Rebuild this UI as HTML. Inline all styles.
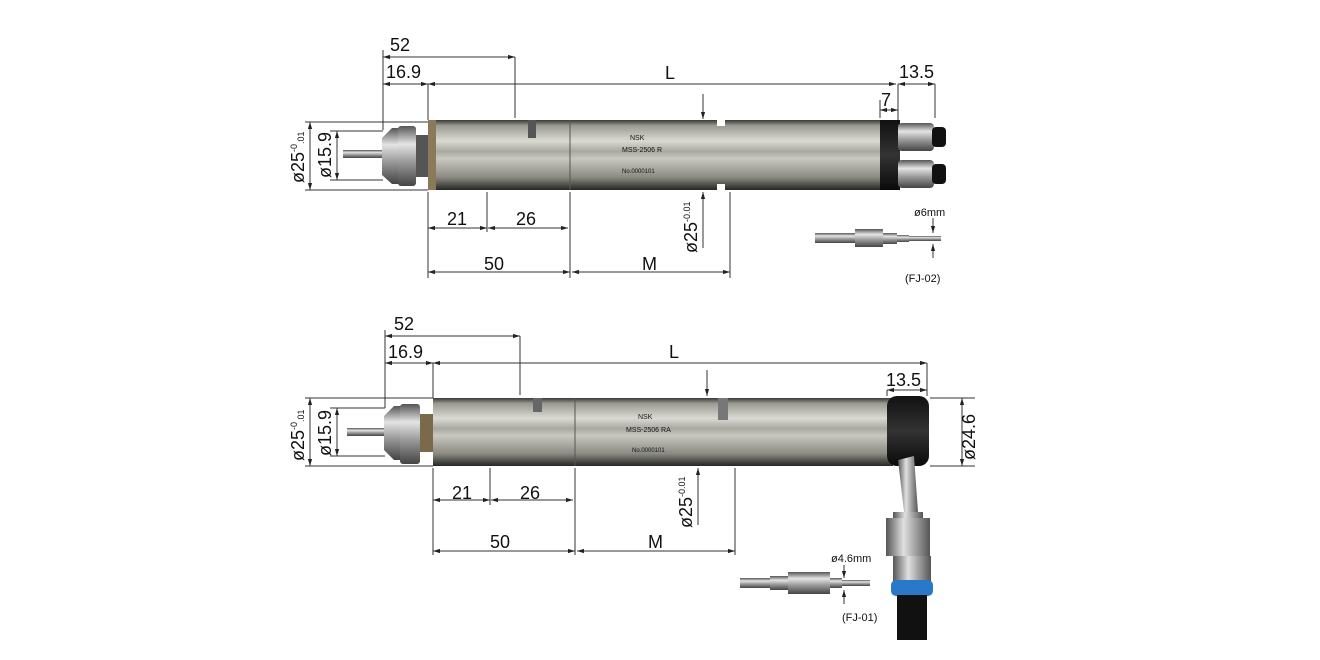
<!DOCTYPE html>
<html><head><meta charset="utf-8"><style>
html,body{margin:0;padding:0;background:#fff;}
svg{display:block;}
text{font-family:"Liberation Sans",Arial,sans-serif;fill:#111;}
</style></head><body>
<svg width="1320" height="660" viewBox="0 0 1320 660" xmlns="http://www.w3.org/2000/svg">
<defs>
<linearGradient id="metal" x1="0" y1="0" x2="0" y2="1">
<stop offset="0" stop-color="#3a3a36"/><stop offset="0.08" stop-color="#9a9a92"/>
<stop offset="0.3" stop-color="#dadad4"/><stop offset="0.45" stop-color="#a8a8a0"/>
<stop offset="0.55" stop-color="#c8c8c0"/><stop offset="0.82" stop-color="#8a8a82"/>
<stop offset="1" stop-color="#262622"/></linearGradient>
<linearGradient id="col" x1="0" y1="0" x2="0" y2="1">
<stop offset="0" stop-color="#555"/><stop offset="0.3" stop-color="#e4e4e4"/>
<stop offset="0.6" stop-color="#9a9a9a"/><stop offset="1" stop-color="#444"/></linearGradient>
<linearGradient id="blk" x1="0" y1="0" x2="0" y2="1">
<stop offset="0" stop-color="#111"/><stop offset="0.5" stop-color="#333"/><stop offset="1" stop-color="#0a0a0a"/></linearGradient>
<linearGradient id="vmetal" x1="0" y1="0" x2="1" y2="0">
<stop offset="0" stop-color="#555"/><stop offset="0.4" stop-color="#e0e0e0"/><stop offset="1" stop-color="#555"/></linearGradient>
<marker id="a" viewBox="0 0 10 10" refX="10" refY="5" markerWidth="7" markerHeight="7" orient="auto-start-reverse"><path d="M0,2 L10,5 L0,8 z" fill="#222"/></marker>
</defs>
<g stroke="#333" stroke-width="1" fill="none">
<line x1="383" y1="50" x2="383" y2="130"/><line x1="428" y1="84" x2="428" y2="120"/>
<line x1="515" y1="57" x2="515" y2="118"/><line x1="898" y1="84" x2="898" y2="122"/>
<line x1="935" y1="84" x2="935" y2="118"/><line x1="880" y1="100" x2="880" y2="118"/>
<line x1="383" y1="57" x2="515" y2="57" marker-start="url(#a)" marker-end="url(#a)"/>
<line x1="383" y1="84" x2="428" y2="84" marker-start="url(#a)" marker-end="url(#a)"/>
<line x1="428" y1="84" x2="896" y2="84" marker-start="url(#a)" marker-end="url(#a)"/>
<line x1="898" y1="84" x2="935" y2="84" marker-start="url(#a)" marker-end="url(#a)"/>
<line x1="880" y1="110" x2="898" y2="110" marker-start="url(#a)" marker-end="url(#a)"/>
<line x1="703" y1="94" x2="703" y2="119" marker-end="url(#a)"/>
<line x1="703" y1="192" x2="703" y2="248" marker-start="url(#a)"/>
<line x1="305" y1="122" x2="428" y2="122"/><line x1="305" y1="190" x2="428" y2="190"/>
<line x1="330" y1="131" x2="383" y2="131"/><line x1="330" y1="180" x2="383" y2="180"/>
<line x1="310" y1="122" x2="310" y2="190" marker-start="url(#a)" marker-end="url(#a)"/>
<line x1="337" y1="131" x2="337" y2="180" marker-start="url(#a)" marker-end="url(#a)"/>
<line x1="428" y1="192" x2="428" y2="278"/><line x1="487" y1="192" x2="487" y2="232"/>
<line x1="570" y1="192" x2="570" y2="278"/><line x1="730" y1="192" x2="730" y2="278"/>
<line x1="428" y1="228" x2="487" y2="228" marker-start="url(#a)" marker-end="url(#a)"/>
<line x1="488" y1="228" x2="568" y2="228" marker-start="url(#a)" marker-end="url(#a)"/>
<line x1="428" y1="272" x2="570" y2="272" marker-start="url(#a)" marker-end="url(#a)"/>
<line x1="572" y1="272" x2="730" y2="272" marker-start="url(#a)" marker-end="url(#a)"/>
<line x1="933" y1="218" x2="933" y2="233" marker-end="url(#a)"/>
<line x1="933" y1="258" x2="933" y2="244" marker-end="url(#a)"/>
<line x1="385" y1="330" x2="385" y2="408"/><line x1="433" y1="363" x2="433" y2="398"/>
<line x1="520" y1="336" x2="520" y2="395"/><line x1="927" y1="363" x2="927" y2="396"/>
<line x1="887" y1="390" x2="887" y2="396"/>
<line x1="385" y1="336" x2="520" y2="336" marker-start="url(#a)" marker-end="url(#a)"/>
<line x1="385" y1="363" x2="433" y2="363" marker-start="url(#a)" marker-end="url(#a)"/>
<line x1="433" y1="363" x2="927" y2="363" marker-start="url(#a)" marker-end="url(#a)"/>
<line x1="887" y1="390" x2="927" y2="390" marker-start="url(#a)" marker-end="url(#a)"/>
<line x1="707" y1="370" x2="707" y2="396" marker-end="url(#a)"/>
<line x1="698" y1="468" x2="698" y2="525" marker-start="url(#a)"/>
<line x1="305" y1="398" x2="433" y2="398"/><line x1="305" y1="466" x2="433" y2="466"/>
<line x1="330" y1="408" x2="385" y2="408"/><line x1="330" y1="456" x2="385" y2="456"/>
<line x1="310" y1="398" x2="310" y2="466" marker-start="url(#a)" marker-end="url(#a)"/>
<line x1="337" y1="408" x2="337" y2="456" marker-start="url(#a)" marker-end="url(#a)"/>
<line x1="930" y1="398" x2="975" y2="398"/><line x1="930" y1="466" x2="975" y2="466"/>
<line x1="962" y1="398" x2="962" y2="466" marker-start="url(#a)" marker-end="url(#a)"/>
<line x1="433" y1="468" x2="433" y2="555"/><line x1="490" y1="468" x2="490" y2="505"/>
<line x1="575" y1="468" x2="575" y2="555"/><line x1="735" y1="468" x2="735" y2="555"/>
<line x1="433" y1="500" x2="490" y2="500" marker-start="url(#a)" marker-end="url(#a)"/>
<line x1="491" y1="500" x2="573" y2="500" marker-start="url(#a)" marker-end="url(#a)"/>
<line x1="433" y1="551" x2="575" y2="551" marker-start="url(#a)" marker-end="url(#a)"/>
<line x1="577" y1="551" x2="735" y2="551" marker-start="url(#a)" marker-end="url(#a)"/>
<line x1="844" y1="565" x2="844" y2="578" marker-end="url(#a)"/>
<line x1="844" y1="604" x2="844" y2="590" marker-end="url(#a)"/>
</g>
<rect x="343" y="150" width="40" height="8" fill="url(#col)"/>
<path d="M382,138 L392,128 L400,128 L400,184 L392,184 L382,175 z" fill="url(#col)"/>
<rect x="398" y="126" width="18" height="60" rx="3" fill="url(#col)"/>
<rect x="416" y="135" width="14" height="42" fill="#555"/>
<rect x="428" y="120" width="455" height="70" fill="url(#metal)"/>
<rect x="428" y="120" width="8" height="70" fill="#8a7a5a"/>
<line x1="570" y1="120" x2="570" y2="190" stroke="#555"/>
<rect x="528" y="120" width="8" height="18" fill="#555"/>
<rect x="717" y="120" width="8" height="6" fill="#fff"/><rect x="717" y="184" width="8" height="6" fill="#fff"/>
<rect x="880" y="120" width="20" height="70" fill="url(#blk)"/>
<rect x="898" y="123" width="36" height="28" rx="4" fill="url(#col)"/>
<rect x="898" y="160" width="36" height="28" rx="4" fill="url(#col)"/>
<rect x="932" y="127" width="14" height="20" rx="4" fill="#111"/>
<rect x="932" y="164" width="14" height="20" rx="4" fill="#111"/>
<text x="630" y="140" font-size="7" fill="#888">NSK</text>
<text x="622" y="152" font-size="7" fill="#999">MSS-2506 R</text>
<text x="622" y="173" font-size="6" fill="#666">No.0000101</text>
<rect x="815" y="233" width="40" height="10" fill="url(#col)"/>
<rect x="855" y="229" width="28" height="18" fill="url(#col)"/>
<rect x="883" y="233" width="14" height="11" fill="url(#col)"/>
<rect x="897" y="235" width="12" height="7" fill="url(#col)"/>
<rect x="909" y="236" width="32" height="5" fill="url(#col)"/>
<rect x="347" y="428" width="38" height="8" fill="url(#col)"/>
<path d="M384,416 L394,406 L402,406 L402,460 L394,460 L384,450 z" fill="url(#col)"/>
<rect x="400" y="404" width="20" height="60" rx="3" fill="url(#col)"/>
<rect x="420" y="414" width="14" height="38" fill="#7a6a4a"/>
<rect x="433" y="398" width="460" height="68" fill="url(#metal)"/>
<line x1="575" y1="398" x2="575" y2="466" stroke="#555"/>
<rect x="533" y="398" width="9" height="14" fill="#666"/>
<rect x="718" y="398" width="10" height="22" fill="#777"/>
<rect x="887" y="396" width="42" height="70" rx="10" fill="url(#blk)"/>
<path d="M898,460 L914,456 L918,512 L904,512 z" fill="url(#vmetal)"/>
<rect x="893" y="512" width="30" height="8" fill="url(#vmetal)"/>
<rect x="886" y="518" width="44" height="38" fill="url(#vmetal)"/>
<rect x="893" y="556" width="38" height="26" fill="url(#vmetal)"/>
<rect x="891" y="580" width="42" height="16" rx="5" fill="#2a78c8"/>
<rect x="897" y="595" width="30" height="45" fill="#111"/>
<text x="638" y="419" font-size="7" fill="#888">NSK</text>
<text x="626" y="432" font-size="7" fill="#999">MSS-2506 RA</text>
<text x="632" y="452" font-size="6" fill="#666">No.0000101</text>
<rect x="740" y="578" width="30" height="10" fill="url(#col)"/>
<rect x="770" y="576" width="18" height="14" fill="url(#col)"/>
<rect x="788" y="572" width="42" height="22" fill="url(#col)"/>
<rect x="830" y="578" width="12" height="10" fill="url(#col)"/>
<rect x="842" y="580" width="28" height="6" fill="url(#col)"/>
<g font-size="18">
<text x="390" y="51">52</text><text x="386" y="78">16.9</text>
<text x="665" y="79">L</text><text x="899" y="78">13.5</text><text x="881" y="106">7</text>
<text x="447" y="225">21</text><text x="516" y="225">26</text>
<text x="484" y="270">50</text><text x="642" y="270">M</text>
<text x="394" y="330">52</text><text x="388" y="358">16.9</text>
<text x="669" y="358">L</text><text x="886" y="386">13.5</text>
<text x="452" y="499">21</text><text x="520" y="499">26</text>
<text x="490" y="548">50</text><text x="648" y="548">M</text>
</g>
<g font-size="18">
<text transform="translate(304,183) rotate(-90)">ø25<tspan font-size="9" dy="-7">-0</tspan><tspan font-size="9" dy="7">.01</tspan></text>
<text transform="translate(331,178) rotate(-90)">ø15.9</text>
<text transform="translate(697,253) rotate(-90)">ø25<tspan font-size="9" dy="-7">-0.01</tspan></text>
<text transform="translate(304,461) rotate(-90)">ø25<tspan font-size="9" dy="-7">-0</tspan><tspan font-size="9" dy="7">.01</tspan></text>
<text transform="translate(331,456) rotate(-90)">ø15.9</text>
<text transform="translate(692,528) rotate(-90)">ø25<tspan font-size="9" dy="-7">-0.01</tspan></text>
<text transform="translate(975,460) rotate(-90)">ø24.6</text>
</g>
<g font-size="11">
<text x="914" y="216">ø6mm</text><text x="905" y="282">(FJ-02)</text>
<text x="831" y="562">ø4.6mm</text><text x="842" y="621">(FJ-01)</text>
</g>
</svg>
</body></html>
